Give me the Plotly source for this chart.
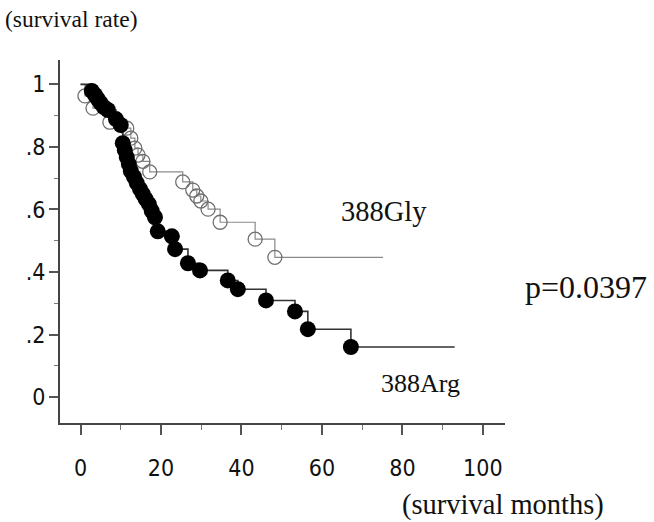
import plotly.graph_objects as go

# ---- data ----
gly_months = [1.1, 3.1, 7.3, 11.5, 12.5, 13.5, 14.3, 15.5, 17.2, 25.4, 27.9, 28.9, 29.9, 31.7, 34.7, 43.4, 48.3]
gly_surv = [0.963, 0.924, 0.879, 0.860, 0.828, 0.796, 0.774, 0.754, 0.720, 0.688, 0.662, 0.643, 0.627, 0.601, 0.559, 0.505, 0.447]
gly_last_followup = 75.2

arg_months = [2.8, 3.6, 4.3, 5.0, 5.8, 6.8, 8.8, 10.0, 10.5, 11.0, 11.5, 12.0, 12.5, 13.3, 14.0, 14.8,
              15.5, 16.2, 17.0, 17.7, 18.5, 19.2, 22.7, 23.5, 26.7, 29.7, 36.6, 39.1, 46.1, 53.3, 56.5, 67.2]
arg_surv = [0.979, 0.966, 0.953, 0.940, 0.927, 0.918, 0.889, 0.870, 0.812, 0.790, 0.767, 0.745, 0.723, 0.704,
            0.684, 0.665, 0.649, 0.633, 0.617, 0.595, 0.575, 0.530, 0.514, 0.473, 0.428, 0.405, 0.373, 0.345,
            0.309, 0.274, 0.217, 0.160]
arg_last_followup = 93.0

x_ticks = [0, 20, 40, 60, 80, 100]
y_ticks = [0, 0.2, 0.4, 0.6, 0.8, 1.0]
y_tick_labels = ["0", ".2", ".4", ".6", ".8", "1"]

gly_label = "388Gly"
arg_label = "388Arg"
p_label = "p=0.0397"
y_title = "(survival rate)"
x_title = "(survival months)"


def km_path(t, s, end):
    return [0.0] + list(t) + [end], [1.0] + list(s) + [s[-1]]


fig = go.Figure()

gx, gy = km_path(gly_months, gly_surv, gly_last_followup)
fig.add_trace(go.Scatter(x=gx, y=gy, mode="lines", line=dict(shape="hv", color="#8a8a8a", width=1.2),
                         hoverinfo="skip", showlegend=False))
fig.add_trace(go.Scatter(x=gly_months, y=gly_surv, mode="markers", name=gly_label,
                         marker=dict(symbol="circle-open", size=14, color="#6e6e6e", line=dict(width=1.3)),
                         showlegend=False))

ax_, ay_ = km_path(arg_months, arg_surv, arg_last_followup)
fig.add_trace(go.Scatter(x=ax_, y=ay_, mode="lines", line=dict(shape="hv", color="#333333", width=1.6),
                         hoverinfo="skip", showlegend=False))
fig.add_trace(go.Scatter(x=arg_months, y=arg_surv, mode="markers", name=arg_label,
                         marker=dict(symbol="circle", size=16, color="#000000"),
                         showlegend=False))

# plot area in pixels: x 60..505, y 60..423
L, R, T, B = 60, 505, 60, 423


def px(xp):
    return (xp - L) / (R - L)


def py(yp):
    return (B - yp) / (B - T)


serif = "Liberation Serif, Times New Roman, serif"
ann = [
    (y_title, 71, 19, 23.5),
    (gly_label, 384, 211, 28.5),
    (p_label, 586, 287, 32),
    (arg_label, 420, 383, 26),
    (x_title, 503, 505, 28.5),
]
for text, xx, yy, size in ann:
    fig.add_annotation(text=text, x=px(xx), y=py(yy), xref="paper", yref="paper",
                       showarrow=False, xanchor="center", yanchor="middle",
                       font=dict(family=serif, size=size, color="#111111"))

tickfont = dict(family="Liberation Sans Narrow, DejaVu Sans Condensed, Liberation Sans, sans-serif",
                size=23, color="#111111")

fig.update_layout(
    width=654, height=522, autosize=False,
    margin=dict(l=L, r=654 - R, t=T, b=522 - B, pad=0),
    paper_bgcolor="white", plot_bgcolor="white",
    xaxis=dict(range=[-5.1, 105.5], tickvals=x_ticks, ticks="outside", ticklen=10, tickwidth=1.5,
               tickcolor="#555555", showline=True, linecolor="#444444", linewidth=2, showgrid=False,
               zeroline=False, tickfont=tickfont, ticklabelstandoff=13, automargin=False,
               minor=dict(dtick=10, tick0=0, ticks="outside", ticklen=5, tickwidth=1.2, tickcolor="#777777",
                          showgrid=False)),
    yaxis=dict(range=[-0.083, 1.078], tickvals=y_ticks, ticktext=y_tick_labels, ticks="outside", ticklen=9,
               tickwidth=1.5, tickcolor="#555555", showline=True, linecolor="#444444", linewidth=2,
               showgrid=False, zeroline=False, tickfont=tickfont, ticklabelstandoff=-1, automargin=False,
               minor=dict(dtick=0.1, tick0=0, ticks="outside", ticklen=4, tickwidth=1.2, tickcolor="#777777",
                          showgrid=False)),
)

fig.write_html("out.html", config={"displayModeBar": False},
               post_script="document.body.style.margin='0';")
